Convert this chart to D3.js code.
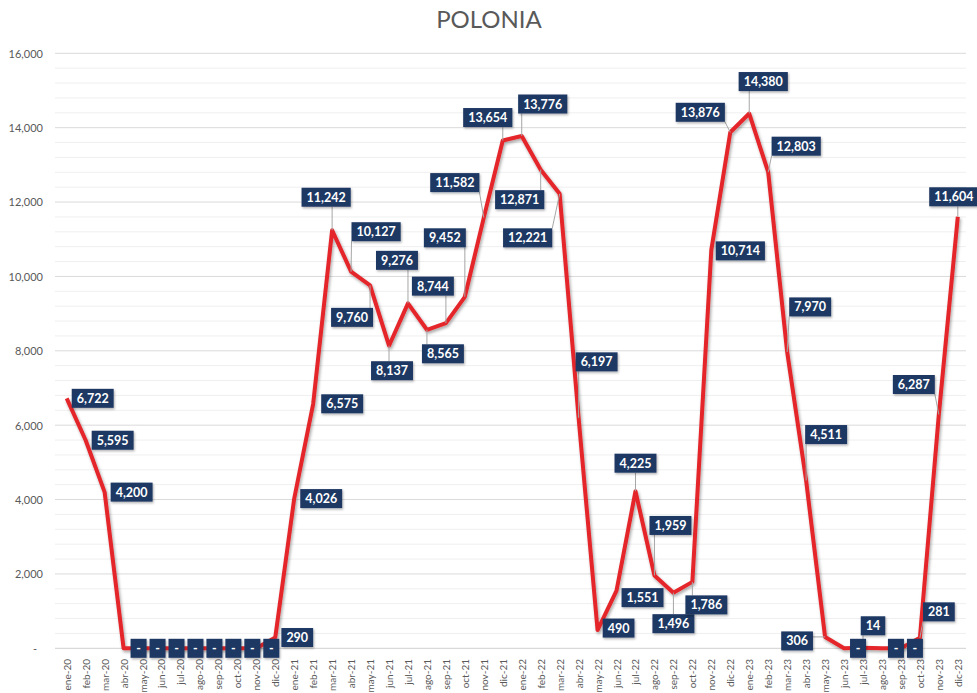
<!DOCTYPE html>
<html>
<head>
<meta charset="utf-8">
<script src="https://cdn.jsdelivr.net/npm/d3@7"></script>
<style>
  html, body { margin: 0; padding: 0; background: #ffffff; }
  svg { display: block; font-family: Lato, "Open Sans", sans-serif; }
</style>
</head>
<body>
<div id="chart"></div>
<script>
// ---- data ----
const title = "POLONIA";
const months = [
  "ene-20","feb-20","mar-20","abr-20","may-20","jun-20","jul-20","ago-20","sep-20","oct-20","nov-20","dic-20",
  "ene-21","feb-21","mar-21","abr-21","may-21","jun-21","jul-21","ago-21","sep-21","oct-21","nov-21","dic-21",
  "ene-22","feb-22","mar-22","abr-22","may-22","jun-22","jul-22","ago-22","sep-22","oct-22","nov-22","dic-22",
  "ene-23","feb-23","mar-23","abr-23","may-23","jun-23","jul-23","ago-23","sep-23","oct-23","nov-23","dic-23"
];
const values = [
  6722, 5595, 4200, 0, 0, 0, 0, 0, 0, 0, 0, 290,
  4026, 6575, 11242, 10127, 9760, 8137, 9276, 8565, 8744, 9452, 11582, 13654,
  13776, 12871, 12221, 6197, 490, 1551, 4225, 1959, 1496, 1786, 10714, 13876,
  14380, 12803, 7970, 4511, 306, 0, 14, 0, 0, 281, 6287, 11604
];
const yTicks = [0, 2000, 4000, 6000, 8000, 10000, 12000, 14000, 16000];

// ---- layout (label offsets in px, relative to the point) ----
const labelOffsets = [
  [26,0],[27,0],[27,0],[15,0],[15,0],[15,0],[15,0],[15,0],[15,0],[15,0],[15,0],[22,0],
  [27,0],[29,0],[-6,-33],[25,-40],[-18,32],[3,25],[-11,-43],[16,24],[-13,-37],[-20,-59],[-29,-35],[-15,-23],
  [21,-32],[-21,30],[-32,44],[18,-56],[21,-2],[26,7],[0,-28],[16,-50],[0,31],[14,23],[29,1],[-30,-20],
  [14,-32],[28,-26],[23,-45],[20,-46],[-28,4],[14,0],[10,-22],[14,0],[14,0],[19,-26],[-25,-30],[-4,-20]
];

const W = 977, H = 693;
const svg = d3.select("#chart").append("svg").attr("width", W).attr("height", H);

const x = d3.scalePoint().domain(months).range([66.7, 957.8]);
const y = d3.scaleLinear().domain([0, 16000]).range([648.3, 53.3]);

const defs = svg.append("defs");
const f = defs.append("filter").attr("id", "shadow").attr("x", "-5%").attr("y", "-5%").attr("width", "110%").attr("height", "110%");
f.append("feDropShadow").attr("dx", 1.2).attr("dy", 2).attr("stdDeviation", 1.4)
  .attr("flood-color", "#000").attr("flood-opacity", 0.35);
const f2 = defs.append("filter").attr("id", "bshadow").attr("x", "-20%").attr("y", "-20%").attr("width", "140%").attr("height", "150%");
f2.append("feDropShadow").attr("dx", 1).attr("dy", 1.5).attr("stdDeviation", 1)
  .attr("flood-color", "#000").attr("flood-opacity", 0.3);

// title
svg.append("text").attr("x", 489).attr("y", 28).attr("text-anchor", "middle")
  .attr("font-size", 24).attr("fill", "#595959").text(title);

// gridlines
const gx0 = 55, gx1 = 966;
const minor = d3.range(400, 16000, 400).filter(v => v % 2000 !== 0);
svg.append("g").selectAll("line").data(minor).join("line")
  .attr("x1", gx0).attr("x2", gx1).attr("y1", d => y(d)).attr("y2", d => y(d))
  .attr("stroke", "#EFEFEF").attr("stroke-width", 1);
svg.append("g").selectAll("line").data(yTicks).join("line")
  .attr("x1", gx0).attr("x2", gx1).attr("y1", d => y(d)).attr("y2", d => y(d))
  .attr("stroke", d => d === 0 ? "#D0D0D0" : "#DADADA").attr("stroke-width", 1);

// y axis
const yAxis = d3.axisLeft(y).tickValues(yTicks).tickSize(0).tickPadding(0)
  .tickFormat(d => d === 0 ? "-" : d3.format(",")(d));
const gy = svg.append("g").attr("transform", "translate(43,0)").call(yAxis);
gy.select(".domain").remove();
gy.selectAll("text").attr("font-size", 11).attr("fill", "#595959")
  .attr("font-family", "Lato, 'Open Sans', sans-serif").attr("dy", "0.35em");
gy.selectAll("text").filter(d => d === 0).attr("x", -6);

// x axis
const xAxis = d3.axisBottom(x).tickSize(0).tickPadding(0);
const gxa = svg.append("g").attr("transform", "translate(0,659)").call(xAxis);
gxa.select(".domain").remove();
gxa.selectAll("text").attr("font-size", 10).attr("fill", "#595959")
  .attr("font-family", "Lato, 'Open Sans', sans-serif")
  .attr("transform", "rotate(-90)").attr("text-anchor", "end")
  .attr("x", 0).attr("y", 0).attr("dx", 0).attr("dy", "0.35em");

// line
const line = d3.line().x((d, i) => x(months[i])).y(d => y(d)).curve(d3.curveLinear);
svg.append("path").datum(values).attr("d", line)
  .attr("fill", "none").attr("stroke", "#E4262B").attr("stroke-width", 4)
  .attr("stroke-linejoin", "round").attr("filter", "url(#shadow)");

// labels
const fmt = d => d === 0 ? "-" : d3.format(",")(d);
const lblData = values.map((v, i) => ({ v, i, px: x(months[i]), py: y(v),
  cx: x(months[i]) + labelOffsets[i][0], cy: y(v) + labelOffsets[i][1] }));

const leaders = svg.append("g");
const lg = svg.append("g");
lblData.forEach(d => {
  const g = lg.append("g");
  const t = g.append("text").attr("x", d.cx).attr("y", d.cy).attr("dy", "0.36em")
    .attr("text-anchor", "middle").attr("font-size", 12.5).attr("font-weight", "bold")
    .attr("fill", "#ffffff").text(fmt(d.v));
  const tw = t.node().getComputedTextLength();
  const bw = d.v === 0 ? 16 : tw + 10, bh = 19;
  g.insert("rect", "text").attr("x", d.cx - bw / 2).attr("y", d.cy - bh / 2)
    .attr("width", bw).attr("height", bh).attr("fill", "#1F3864").attr("filter", "url(#bshadow)");
  const nx = Math.max(d.cx - bw / 2, Math.min(d.px, d.cx + bw / 2));
  const ny = Math.max(d.cy - bh / 2, Math.min(d.py, d.cy + bh / 2));
  const dist = Math.hypot(nx - d.px, ny - d.py);
  if (dist > 10) {
    leaders.append("line").attr("x1", d.px).attr("y1", d.py).attr("x2", nx).attr("y2", ny)
      .attr("stroke", "#A6A6A6").attr("stroke-width", 1);
  }
});
</script>
</body>
</html>
